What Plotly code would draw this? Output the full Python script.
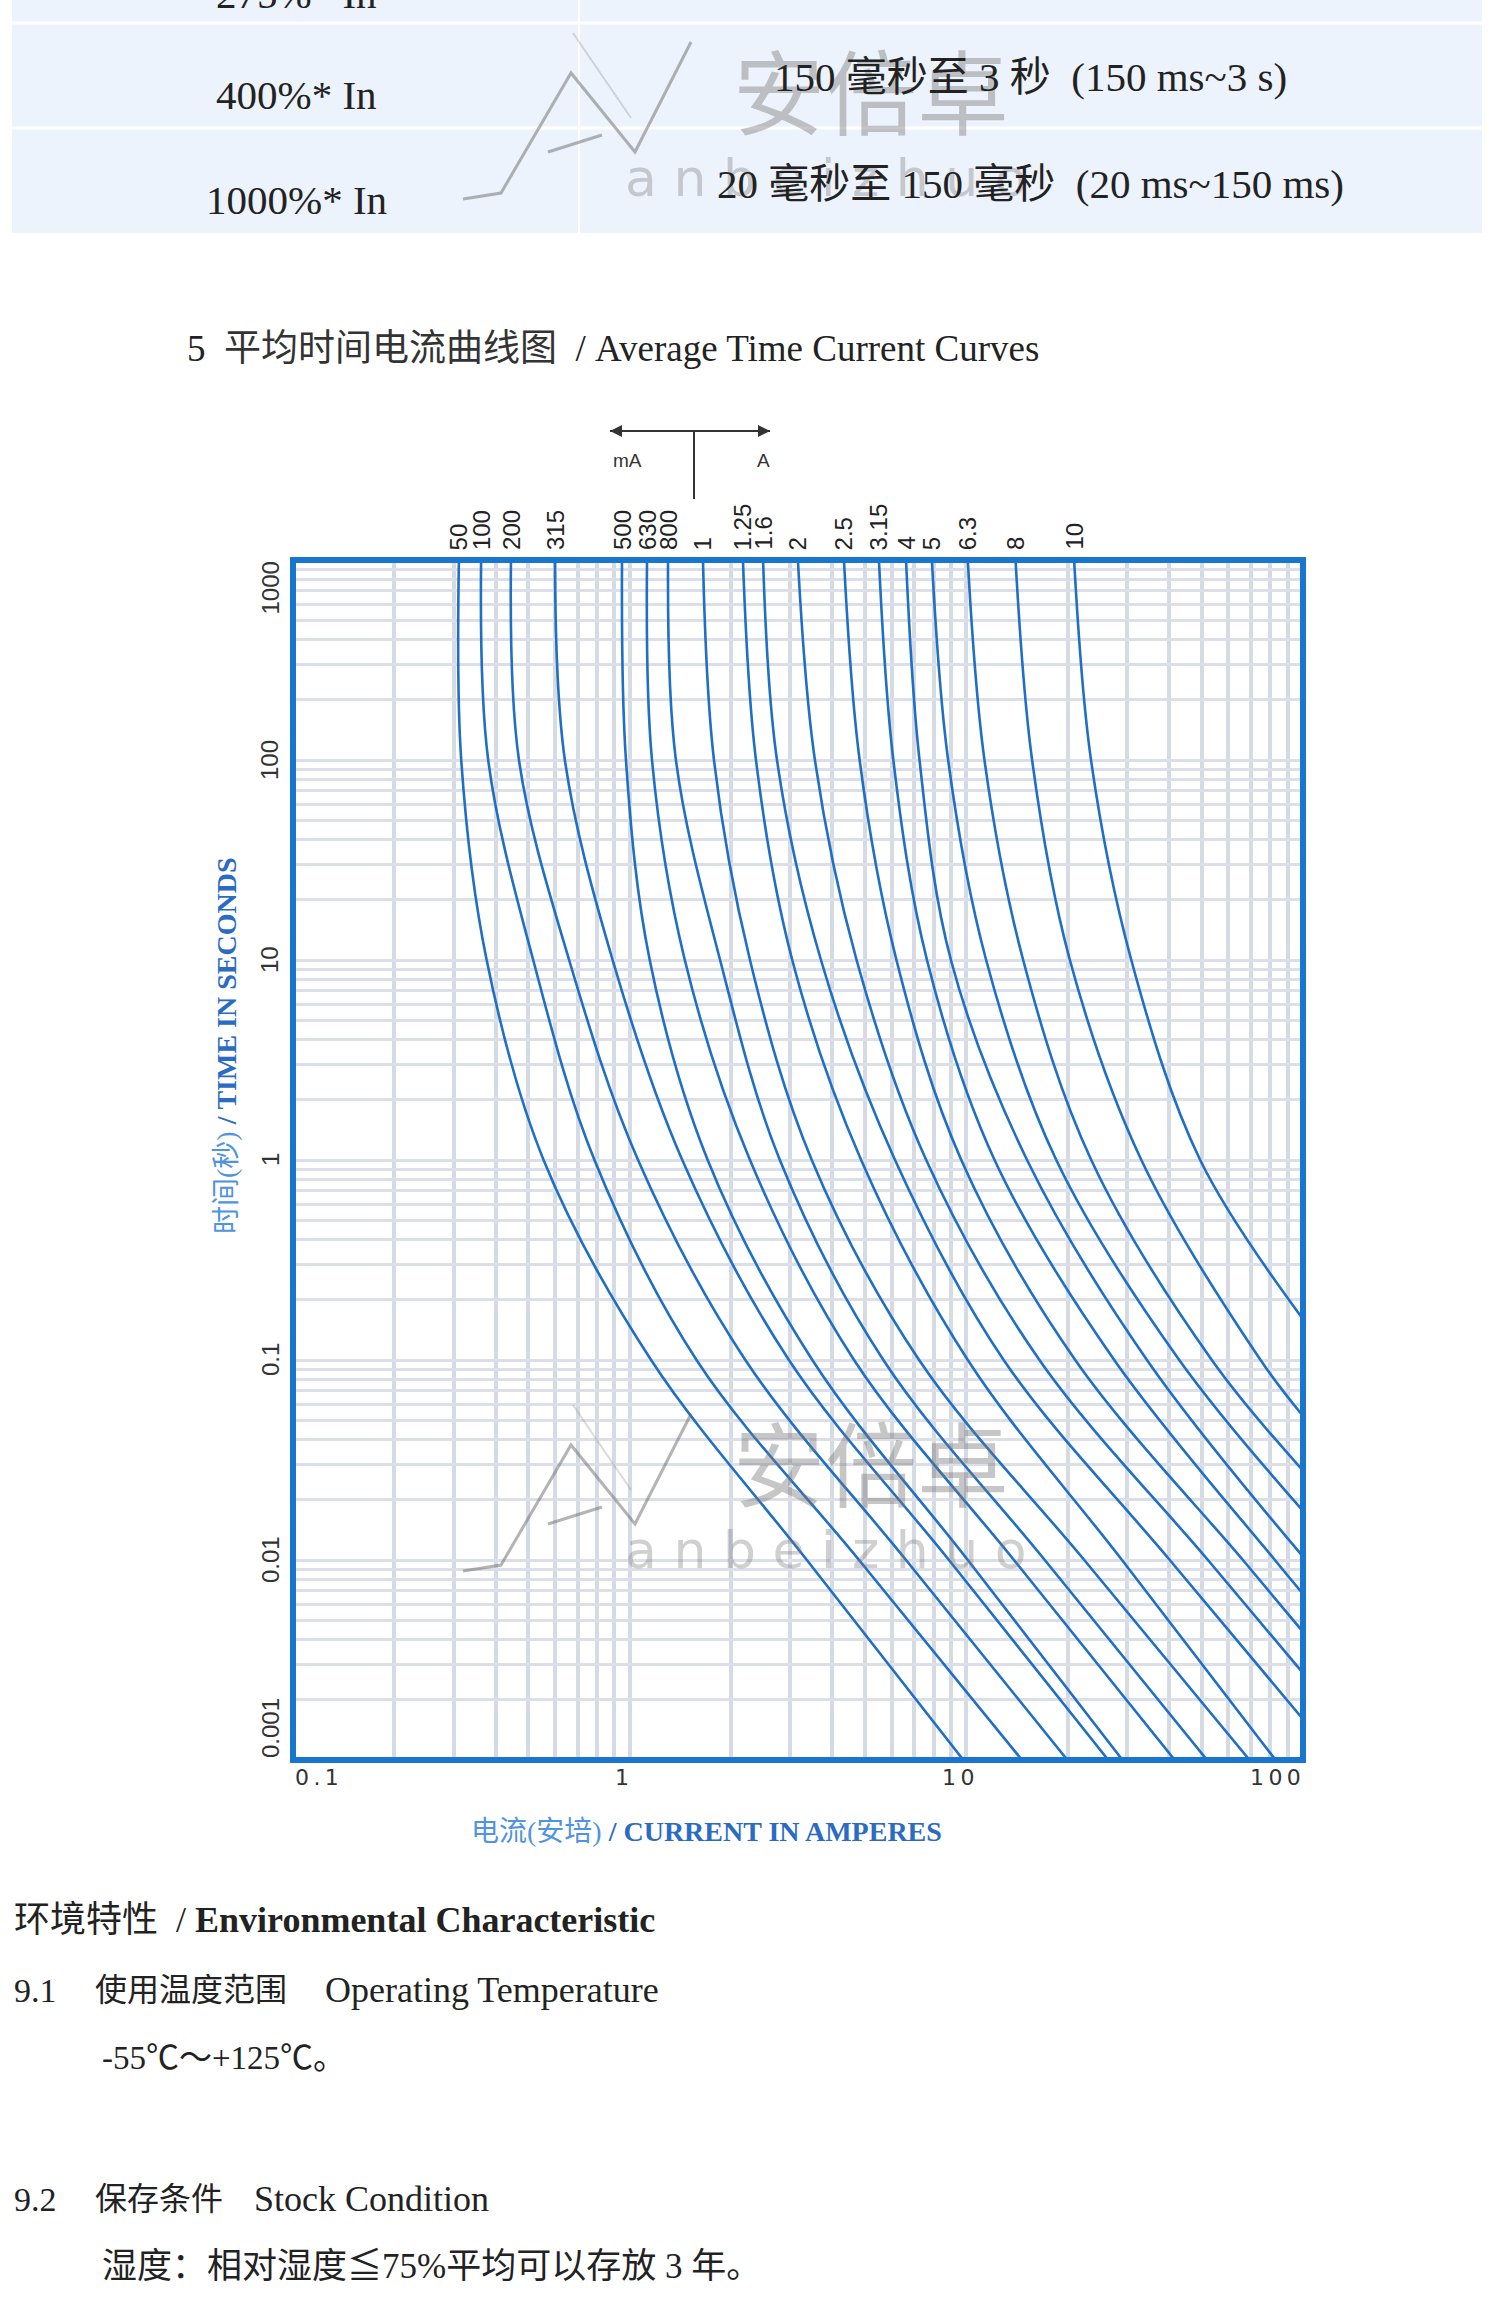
import math
import plotly.graph_objects as go

# ---------------- data ----------------
ratings = ["50", "100", "200", "315", "500", "630", "800", "1", "1.25", "1.6",
           "2", "2.5", "3.15", "4", "5", "6.3", "8", "10"]

times = [1000, 100, 10, 1, 0.1, 0.01, 0.001]   # seconds (decade lines)

# current (A) where each curve crosses each decade time line
i_at_1000s = [0.311, 0.362, 0.444, 0.600, 0.949, 1.126, 1.30, 1.651, 2.17, 2.49,
              3.16, 4.33, 5.50, 6.62, 7.90, 10.1, 14.0, 20.9]
i_at_100s = [0.316, 0.380, 0.469, 0.642, 0.975, 1.165, 1.372, 1.780, 2.372, 2.739,
             3.55, 4.82, 6.07, 7.26, 8.83, 11.32, 15.68, 23.46]
i_at_10s = [0.376, 0.517, 0.661, 0.890, 1.147, 1.458, 1.856, 2.277, 3.04, 3.70,
            4.72, 6.20, 7.64, 9.00, 11.45, 14.75, 20.3, 30.9]
i_at_1s = [0.555, 0.786, 1.059, 1.433, 1.705, 2.277, 2.793, 3.474, 4.87, 6.14,
           7.60, 9.66, 12.13, 15.15, 18.5, 23.5, 33.1, 49.5]
i_at_0_1s = [1.158, 1.580, 2.206, 2.972, 3.488, 4.64, 5.67, 7.24, 10.1, 12.91,
             16.49, 21.06, 27.5, 34.4, 42.9, 53.6, 74.8, None]
i_at_0_01s = [3.36, 4.80, 6.62, 8.88, 10.1, 13.85, 17.1, 22.4, 29.0, 40.2,
              52.2, 66.3, 82.5, None, None, None, None, None]
i_at_0_001s = [9.80, 14.63, 19.97, 26.4, 29.1, 41.6, 51.9, 69.4, 82.9,
               None, None, None, None, None, None, None, None, None]
# time (s) at which curves leave the chart through its right edge (100 A)
t_at_right_edge = [None, None, None, None, None, None, None, None, None,
                   0.0016, 0.00272, 0.00437, 0.00676, 0.0104, 0.0176, 0.028, 0.0525, 0.16]

x_ticks = [0.1, 1, 10, 100]
y_ticks = [1000, 100, 10, 1, 0.1, 0.01, 0.001]
X_MIN, X_MAX = 0.1, 100
Y_MIN, Y_MAX = 0.001, 1000

# ---------------- page geometry / styles ----------------
W, H = 1500, 2322
def px(x): return x / W
def py(y): return 1 - y / H

SERIF = "Liberation Serif, 'Noto Sans CJK SC', serif"
SANS = "Liberation Sans, Arial, 'Noto Sans CJK SC', sans-serif"
DSANS = "DejaVu Sans, Verdana, sans-serif"
CURVE = "#1f6fc5"
BORDER = "#1976cf"
GRID_V = "#d6dae3"
GRID_H = "#dcdfe7"
WM = "rgba(105,105,105,0.5)"

PLOT_L, PLOT_R, PLOT_T, PLOT_B = 293, 1303, 560, 1760

fig = go.Figure()

levels = [i_at_1000s, i_at_100s, i_at_10s, i_at_1s, i_at_0_1s, i_at_0_01s, i_at_0_001s]
for k, name in enumerate(ratings):
    xs, ys = [], []
    for t, arr in zip(times, levels):
        if arr[k] is not None:
            xs.append(arr[k])
            ys.append(t)
    if t_at_right_edge[k] is not None:
        xs.append(X_MAX)
        ys.append(t_at_right_edge[k])
    fig.add_trace(go.Scatter(x=xs, y=ys, mode="lines", name=name,
                             line=dict(color=CURVE, width=2.6, shape="spline", smoothing=1.0),
                             hoverinfo="skip", showlegend=False))

# grid values (1..9 per decade)
def grid_vals(lo, hi):
    out = []
    e = int(round(math.log10(lo)))
    while 10 ** e <= hi * 1.0001:
        for d in range(1, 10):
            v = d * 10 ** e
            if lo * 0.9999 <= v <= hi * 1.0001:
                out.append(v)
        e += 1
    return out

fig.update_xaxes(type="log", range=[math.log10(X_MIN), math.log10(X_MAX)],
                 domain=[px(PLOT_L), px(PLOT_R)], tickvals=grid_vals(X_MIN, X_MAX),
                 showticklabels=False, ticks="", showgrid=True, gridcolor=GRID_V,
                 gridwidth=3.5, zeroline=False, showline=False, fixedrange=True)
fig.update_yaxes(type="log", range=[math.log10(Y_MIN), math.log10(Y_MAX)],
                 domain=[py(PLOT_B), py(PLOT_T)], tickvals=grid_vals(Y_MIN, Y_MAX),
                 showticklabels=False, ticks="", showgrid=True, gridcolor=GRID_H,
                 gridwidth=2.5, zeroline=False, showline=False, fixedrange=True)

shapes = []
# plot border
shapes.append(dict(type="rect", xref="x domain", yref="y domain", x0=0, x1=1, y0=0, y1=1,
                   line=dict(color=BORDER, width=6), layer="above"))
# table at top
shapes.append(dict(type="rect", xref="paper", yref="paper", x0=px(12), x1=px(1482),
                   y0=py(233), y1=py(-5), fillcolor="#edf3fc", line=dict(width=0), layer="below"))
for yy in (23, 128):
    shapes.append(dict(type="line", xref="paper", yref="paper", x0=px(12), x1=px(1482),
                       y0=py(yy), y1=py(yy), line=dict(color="white", width=3), layer="below"))
shapes.append(dict(type="line", xref="paper", yref="paper", x0=px(579), x1=px(579),
                   y0=py(233), y1=py(-5), line=dict(color="white", width=2), layer="below"))
# mA | A diagram
shapes.append(dict(type="line", xref="paper", yref="paper", x0=px(694), x1=px(694),
                   y0=py(431), y1=py(499), line=dict(color="#333", width=2)))
shapes.append(dict(type="line", xref="paper", yref="paper", x0=px(610), x1=px(770),
                   y0=py(431), y1=py(431), line=dict(color="#333", width=2)))

# watermark logo (two copies)
def wm_path(pts):
    return "M " + " L ".join(f"{px(x):.5f},{py(y):.5f}" for x, y in pts)
for dy in (0, -1372):
    main = [(463, 1571 + dy), (501, 1565 + dy), (571, 1445 + dy), (635, 1524 + dy), (691, 1414 + dy)]
    shapes.append(dict(type="path", xref="paper", yref="paper", path=wm_path(main),
                       line=dict(color=WM, width=3), layer="above"))
    shapes.append(dict(type="path", xref="paper", yref="paper",
                       path=wm_path([(548, 1524 + dy), (602, 1507 + dy)]),
                       line=dict(color=WM, width=3), layer="above"))
    shapes.append(dict(type="path", xref="paper", yref="paper",
                       path=wm_path([(573, 1405 + dy), (631, 1490 + dy)]),
                       line=dict(color="rgba(150,150,150,0.35)", width=2), layer="above"))

ann = []
def text(x, y, s, size, color="#222", family=SERIF, xanchor="center", yanchor="middle", angle=0):
    ann.append(dict(x=px(x), y=py(y), xref="paper", yref="paper", text=s, showarrow=False,
                    font=dict(size=size, color=color, family=family),
                    xanchor=xanchor, yanchor=yanchor, textangle=angle))

# watermark text (drawn first, under the rest)
for dy in (0, -1372):
    text(871, 1459 + dy, "安倍卓", 92, color="rgba(120,120,120,0.42)",
         family="'Noto Sans CJK SC', sans-serif")
    text(826, 1550 + dy, "a n b e i z h u o", 52, color="rgba(120,120,120,0.35)", family=DSANS)

# table text
text(296, -6, "275%* In", 41)
text(296, 95, "400%* In", 41)
text(296, 200, "1000%* In", 41)
text(1030, 77, "150 毫秒至 3 秒  (150 ms~3 s)", 41)
text(1030, 184, "20 毫秒至 150 毫秒  (20 ms~150 ms)", 41)

# heading
text(185, 348, "5  <span style='color:#333'>平均时间电流曲线图</span>  / Average Time Current Curves",
     37, xanchor="left")

# mA / A
text(627, 460, "mA", 19, color="#333", family=SANS)
text(763, 460, "A", 19, color="#333", family=SANS)
for x_head in (610, 770):
    ann.append(dict(x=px(x_head), y=py(431), xref="paper", yref="paper", text="",
                    showarrow=True, arrowhead=2, arrowsize=1.2, arrowwidth=2, arrowcolor="#333",
                    ax=694 - x_head, ay=0))

# curve rating labels
for k, name in enumerate(ratings):
    ann.append(dict(x=math.log10(i_at_1000s[k]), y=py(552), xref="x", yref="paper", text=name,
                    showarrow=False, textangle=-90, xanchor="center", yanchor="bottom",
                    font=dict(size=24, color="#222", family=SANS)))

# y tick labels
for v in y_ticks:
    lab = ("%g" % v)
    ya = "middle"
    if v == Y_MAX:
        ya = "top"
    elif v == Y_MIN:
        ya = "bottom"
    ann.append(dict(x=px(270), y=math.log10(v), xref="paper", yref="y", text=lab,
                    showarrow=False, textangle=-90, xanchor="center", yanchor=ya,
                    font=dict(size=24, color="#333", family=SANS)))

# x tick labels
for v in x_ticks:
    lab = "\u2009".join(("%g" % v))
    xa, sh = "center", 0
    if v == X_MIN:
        xa = "left"
    elif v == X_MAX:
        xa = "right"
    else:
        sh = -8
    ann.append(dict(x=math.log10(v), y=py(1777), xref="x", yref="paper", text=lab,
                    showarrow=False, xanchor=xa, yanchor="middle", xshift=sh,
                    font=dict(size=22, color="#333", family=DSANS)))

# axis titles
text(226, 1046, "<span style='color:#4f94de'>时间(秒)</span><b> / TIME IN SECONDS</b>", 28,
     color="#2a6cc4", angle=-90)
text(706, 1832, "<span style='color:#4f94de'>电流(安培)</span><b> / CURRENT IN AMPERES</b>", 28,
     color="#2a6cc4")

# lower section text
text(12, 1920, "环境特性  / <b>Environmental Characteristic</b>", 36, xanchor="left")
text(12, 1990, "9.1", 34, xanchor="left")
text(93, 1990, "使用温度范围", 32, xanchor="left")
text(323, 1990, "Operating Temperature", 36, xanchor="left")
text(100, 2058, "-55℃～+125℃。", 33, xanchor="left")
text(12, 2199, "9.2", 34, xanchor="left")
text(93, 2199, "保存条件", 32, xanchor="left")
text(252, 2199, "Stock Condition", 36, xanchor="left")
text(100, 2266, "湿度：相对湿度≦75%平均可以存放 3 年。", 35, xanchor="left")

fig.update_layout(width=W, height=H, margin=dict(l=0, r=0, t=0, b=0),
                  paper_bgcolor="white", plot_bgcolor="white",
                  shapes=shapes, annotations=ann, showlegend=False)

fig.write_html("out.html", config={"displayModeBar": False},
               post_script="document.body.style.margin='0px';document.body.style.padding='0px';")
